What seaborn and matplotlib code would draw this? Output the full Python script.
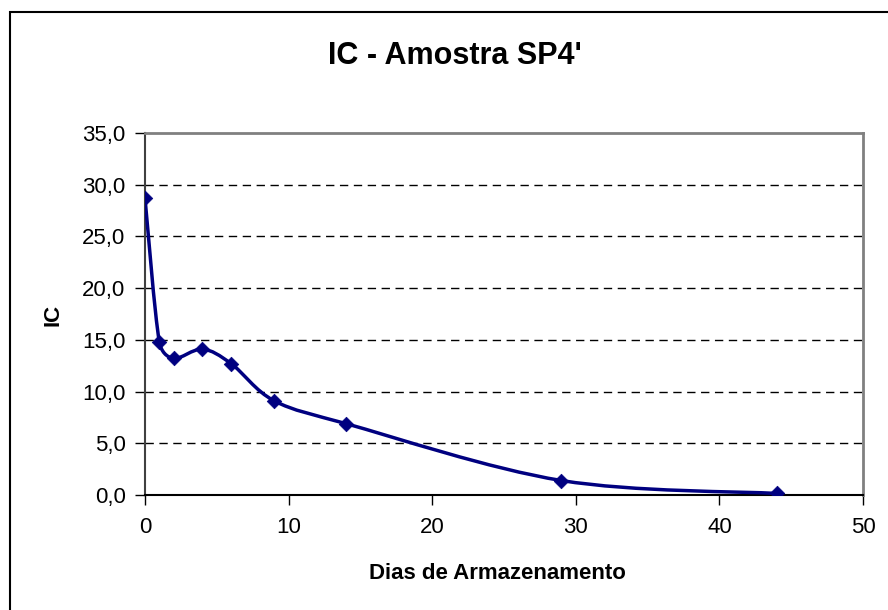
import numpy as np
import pandas as pd
import matplotlib
matplotlib.use("Agg")
import matplotlib.pyplot as plt
from matplotlib.path import Path
from matplotlib.patches import PathPatch, Rectangle
from matplotlib.ticker import FuncFormatter
import seaborn as sns

# Storage time (days) and IC values for sample SP4'
dias = [0, 1, 2, 4, 6, 9, 14, 29, 44]
ic = [28.7, 14.8, 13.2, 14.1, 12.7, 9.1, 6.9, 1.4, 0.15]

titulo = "IC - Amostra SP4'"
rotulo_x = "Dias de Armazenamento"
rotulo_y = "IC"
x_ticks = [0, 10, 20, 30, 40, 50]
y_ticks = [0, 5, 10, 15, 20, 25, 30, 35]

df = pd.DataFrame({"dias": dias, "ic": ic})

sns.set_theme(style="white")
plt.rcParams["font.family"] = ["Liberation Sans", "DejaVu Sans"]

fig = plt.figure(figsize=(8.88, 6.10), dpi=100)
ax = fig.add_axes([145 / 888, 1 - 495 / 610, (863 - 145) / 888, (495 - 133) / 610])
ax.set_xlim(0, 50)
ax.set_ylim(0, 35)

line_color = "#000080"


def smooth_path(ax, xs, ys, tension=1 / 6, cap=0.45):
    """Smoothed cubic Bezier path through the points, built in display space
    so that the control arms can be limited to a share of each segment."""
    fig.canvas.draw()
    data = np.column_stack([xs, ys]).astype(float)
    pts = ax.transData.transform(data)
    n = len(pts)
    verts = [pts[0]]
    codes = [Path.MOVETO]
    for i in range(n - 1):
        p0 = pts[i - 1] if i > 0 else pts[i]
        p1 = pts[i]
        p2 = pts[i + 1]
        p3 = pts[i + 2] if i + 2 < n else pts[i + 1]
        seg = np.linalg.norm(p2 - p1)
        a1 = (p2 - p0) * tension
        a2 = (p3 - p1) * tension
        for a in (a1, a2):
            L = np.linalg.norm(a)
            if L > cap * seg:
                a *= cap * seg / L
        verts += [p1 + a1, p2 - a2, p2]
        codes += [Path.CURVE4] * 3
    verts = ax.transData.inverted().transform(np.array(verts))
    return Path(verts, codes)


ax.add_patch(PathPatch(smooth_path(ax, df["dias"], df["ic"]), facecolor="none",
                       edgecolor=line_color, lw=2.5, zorder=3,
                       capstyle="round", joinstyle="round"))
sns.scatterplot(data=df, x="dias", y="ic", ax=ax, marker="D", s=55,
                color=line_color, edgecolor=line_color, linewidth=0.5, zorder=4,
                legend=False)

ax.set_xlim(0, 50)
ax.set_ylim(0, 35)
ax.set_xticks(x_ticks)
ax.set_yticks(y_ticks)
ax.yaxis.set_major_formatter(FuncFormatter(lambda v, p: f"{v:.1f}".replace(".", ",")))

# dashed horizontal gridlines
for yv in y_ticks[1:-1]:
    ax.axhline(yv, color="black", lw=1.0, ls=(0, (6, 4)), zorder=1)

for side in ["top", "right"]:
    ax.spines[side].set_color("#808080")
    ax.spines[side].set_linewidth(2)
ax.spines["left"].set_color("#404040")
ax.spines["left"].set_linewidth(1.5)
ax.spines["bottom"].set_color("black")
ax.spines["bottom"].set_linewidth(1.5)

ax.tick_params(axis="both", which="major", direction="out", length=7, width=1,
               color="black", labelsize=16, labelcolor="black",
               left=True, bottom=True)
ax.tick_params(axis="y", pad=7)
ax.tick_params(axis="x", pad=9)

ax.set_xlabel(rotulo_x, fontsize=16, fontweight="bold", color="black")
ax.set_ylabel(rotulo_y, fontsize=16, fontweight="bold", color="black")
ax.xaxis.set_label_coords((497 - 145) / (863 - 145), -(563 - 495) / (495 - 133))
ax.yaxis.set_label_coords(-(145 - 63) / (863 - 145), (495 - 315) / (495 - 133))
fig.text(454.5 / 888, 1 - 63.5 / 610, titulo, fontsize=22, fontweight="bold",
         ha="center", va="baseline", color="black")

# outer chart frame
fig.patches.append(Rectangle((10 / 888, -0.01), 1.0, 1 - 12 / 610 + 0.01,
                             transform=fig.transFigure, fill=False,
                             edgecolor="black", lw=1.5))

fig.savefig("out.png", dpi=100)
